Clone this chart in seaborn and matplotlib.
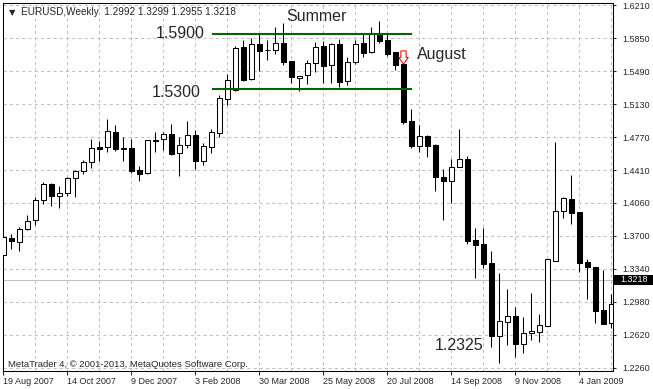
import numpy as np
import matplotlib
matplotlib.use("Agg")
import matplotlib.pyplot as plt
import matplotlib.transforms as mtransforms
from matplotlib.path import Path
from matplotlib.patches import Rectangle
import seaborn as sns

# EURUSD weekly bars, 19 Aug 2007 .. 1 Feb 2009
opens = [1.3485, 1.3673, 1.3626, 1.3768, 1.3866, 1.4085, 1.4259, 1.4134, 1.4161, 1.4324,
         1.4400, 1.4498, 1.4662, 1.4662, 1.4825, 1.4651, 1.4651, 1.4411, 1.4379, 1.4734,
         1.4749, 1.4804, 1.4597, 1.4684, 1.4796, 1.4516, 1.4668, 1.4821, 1.5192, 1.5286,
         1.5752, 1.5403, 1.5788, 1.5722, 1.5719, 1.5799, 1.5603, 1.5421, 1.5447, 1.5578,
         1.5766, 1.5556, 1.5788, 1.5381, 1.5588, 1.5796, 1.5697, 1.5905, 1.5831, 1.5697,
         1.5570, 1.4949, 1.4679, 1.4785, 1.4687, 1.4335, 1.4298, 1.4444, 1.4534, 1.3651,
         1.3608, 1.3401, 1.2608, 1.2761, 1.2823, 1.2518, 1.2634, 1.2652, 1.2717, 1.3426,
         1.3971, 1.4102, 1.3957, 1.3415, 1.3360, 1.2889, 1.2744]
highs = [1.3695, 1.3717, 1.3796, 1.3924, 1.4117, 1.4287, 1.4273, 1.4240, 1.4338, 1.4411,
         1.4524, 1.4752, 1.4731, 1.4970, 1.4905, 1.4774, 1.4752, 1.4458, 1.4740, 1.4825,
         1.4825, 1.4916, 1.4771, 1.4949, 1.4851, 1.4709, 1.4861, 1.5232, 1.5461, 1.5769,
         1.5831, 1.5850, 1.5894, 1.5831, 1.5976, 1.6014, 1.5605, 1.5444, 1.5610, 1.5813,
         1.5817, 1.5802, 1.5839, 1.5649, 1.5831, 1.5905, 1.5976, 1.6039, 1.5905, 1.5699,
         1.5578, 1.5079, 1.4905, 1.4796, 1.4695, 1.4425, 1.4534, 1.4861, 1.4570, 1.3786,
         1.3779, 1.3532, 1.3295, 1.3117, 1.2918, 1.2809, 1.3077, 1.2845, 1.3443, 1.4716,
         1.4123, 1.4360, 1.3959, 1.3441, 1.3362, 1.3325, 1.3063]
lows = [1.3444, 1.3557, 1.3535, 1.3765, 1.3815, 1.4047, 1.4025, 1.4004, 1.4134, 1.4123,
        1.4371, 1.4440, 1.4516, 1.4611, 1.4625, 1.4516, 1.4379, 1.4298, 1.4371, 1.4614,
        1.4633, 1.4578, 1.4352, 1.4658, 1.4429, 1.4472, 1.4603, 1.4777, 1.5123, 1.5279,
        1.5385, 1.5395, 1.5497, 1.5613, 1.5676, 1.5559, 1.5366, 1.5279, 1.5349, 1.5483,
        1.5366, 1.5360, 1.5316, 1.5341, 1.5567, 1.5649, 1.5693, 1.5802, 1.5657, 1.5505,
        1.4913, 1.4651, 1.4614, 1.4559, 1.4189, 1.3870, 1.4058, 1.4442, 1.3608, 1.3241,
        1.3343, 1.2488, 1.2314, 1.2507, 1.2379, 1.2417, 1.2561, 1.2543, 1.2715, 1.3424,
        1.3895, 1.3826, 1.3306, 1.3008, 1.2744, 1.2734, 1.2689]
closes = [1.3681, 1.3637, 1.3768, 1.3855, 1.4088, 1.4259, 1.4134, 1.4161, 1.4324, 1.4404,
          1.4502, 1.4651, 1.4647, 1.4836, 1.4643, 1.4648, 1.4407, 1.4368, 1.4738, 1.4745,
          1.4804, 1.4589, 1.4684, 1.4793, 1.4516, 1.4673, 1.4825, 1.5196, 1.5392, 1.5741,
          1.5395, 1.5785, 1.5715, 1.5719, 1.5796, 1.5595, 1.5431, 1.5442, 1.5578, 1.5752,
          1.5551, 1.5788, 1.5377, 1.5588, 1.5788, 1.5693, 1.5905, 1.5824, 1.5679, 1.5556,
          1.4941, 1.4679, 1.4785, 1.4679, 1.4341, 1.4298, 1.4444, 1.4534, 1.3644, 1.3600,
          1.3390, 1.2608, 1.2769, 1.2820, 1.2515, 1.2634, 1.2663, 1.2725, 1.3441, 1.3968,
          1.4106, 1.3949, 1.3404, 1.3354, 1.2881, 1.2736, 1.2951]

price_ticks = [1.6210, 1.5850, 1.5490, 1.5130, 1.4770, 1.4410, 1.4060,
               1.3700, 1.3340, 1.2980, 1.2620, 1.2260]
date_labels = ["19 Aug 2007", "14 Oct 2007", "9 Dec 2007", "3 Feb 2008", "30 Mar 2008",
               "25 May 2008", "20 Jul 2008", "14 Sep 2008", "9 Nov 2008", "4 Jan 2009"]

summer_high = 1.5900
summer_low = 1.5300
summer_span = (26.1, 51.1)   # bar index range of the channel lines
august_bar = 50
low_label = "1.2325"
last_bid = 1.3218
header = "EURUSD,Weekly  1.2992 1.3299 1.2955 1.3218"
footer = "MetaTrader 4, \u00a9 2001-2013, MetaQuotes Software Corp."

sns.set_style("white")
plt.rcParams["font.family"] = ["Liberation Sans", "DejaVu Sans"]

fig = plt.figure(figsize=(6.53, 3.89), dpi=100)
ax = fig.add_axes([3 / 653, 18 / 389, 610 / 653, 368.5 / 389])

x = np.arange(len(opens))
o, h, l, c = (np.array(v) for v in (opens, highs, lows, closes))
up = c >= o
body_bottom = np.minimum(o, c)
body_height = np.abs(c - o)

# wicks + bodies
ax.vlines(x, l, h, color="black", lw=0.75, zorder=2)
ax.bar(x[up], body_height[up], bottom=body_bottom[up], width=0.55,
       color="white", edgecolor="black", linewidth=0.75, zorder=3)
ax.bar(x[~up], body_height[~up], bottom=body_bottom[~up], width=0.55,
       color="black", edgecolor="black", linewidth=0.75, zorder=3)

# summer channel
ax.hlines([summer_high, summer_low], *summer_span, color="#006400", lw=1.5, zorder=4)
ax.text(25.2, 1.5853, f"{summer_high:.4f}", ha="right", va="baseline", fontsize=11.5)
ax.text(24.7, 1.5210, f"{summer_low:.4f}", ha="right", va="baseline", fontsize=11.5)
ax.text(39.1, 1.6039, "Summer", ha="center", va="baseline", fontsize=11.5)
ax.text(51.7, 1.5619, "August", ha="left", va="baseline", fontsize=11.5)
ax.text(60.0, 1.2452, low_label, ha="right", va="baseline", fontsize=11.5)

# sell arrow over the August breakdown bar
arrow = Path([(-0.2, 0.5), (0.2, 0.5), (0.2, 0.0), (0.36, 0.0), (0.0, -0.5),
              (-0.36, 0.0), (-0.2, 0.0), (-0.2, 0.5)],
             [Path.MOVETO] + [Path.LINETO] * 6 + [Path.CLOSEPOLY])
ax.plot(august_bar, highs[august_bar] + 0.0073, marker=arrow, ms=9.5, mfc="white",
        mec="red", mew=0.75, ls="none", zorder=5)

# bid line + price box
ax.axhline(last_bid, color="#c0c0c0", lw=0.75, zorder=1)
trans = mtransforms.blended_transform_factory(ax.transAxes, ax.transData)
ax.add_patch(Rectangle((1.0 + 1 / 610, last_bid - 0.0052), 0.1, 0.0104, transform=trans,
                       facecolor="black", edgecolor="none", clip_on=False))
ax.text(1.0 + 7 / 610, last_bid, f"{last_bid:.4f}", transform=trans, color="white",
        ha="left", va="center", fontsize=6.5)

# axes, ticks, grid
ax.set_xlim(-0.04, 76.21)
ax.set_ylim(1.2224, 1.6240)
ax.yaxis.tick_right()
ax.set_yticks(price_ticks)
ax.set_yticklabels([f"{t:.4f}" for t in price_ticks], fontsize=6.5)
ax.set_xticks(np.arange(0, 77, 8))
ax.set_xticklabels(date_labels, fontsize=6.5, ha="left")
ax.set_xticks(np.arange(4, 77, 8), minor=True)
ax.tick_params(axis="y", which="major", length=2, width=0.75, pad=4.5, right=True, left=False)
ax.tick_params(axis="x", which="major", length=3, width=0.75, pad=1, bottom=True)
ax.tick_params(axis="x", which="minor", length=0)
ax.grid(True, which="both", color="#c0c0c0", lw=0.75, ls=(0, (3, 3)))
ax.set_axisbelow(True)
for sp in ax.spines.values():
    sp.set_color("black")
    sp.set_linewidth(0.75)

# header + footer
ax.text(6 / 610, 0.966, "\u25bc", transform=ax.transAxes, fontsize=6,
        family=["DejaVu Sans"], va="baseline")
ax.text(18 / 610, 0.966, header, transform=ax.transAxes, fontsize=7.2, va="baseline")
ax.text(4.5 / 610, 0.011, footer, transform=ax.transAxes, fontsize=6.8, va="baseline")

fig.savefig("out.png", dpi=100)
